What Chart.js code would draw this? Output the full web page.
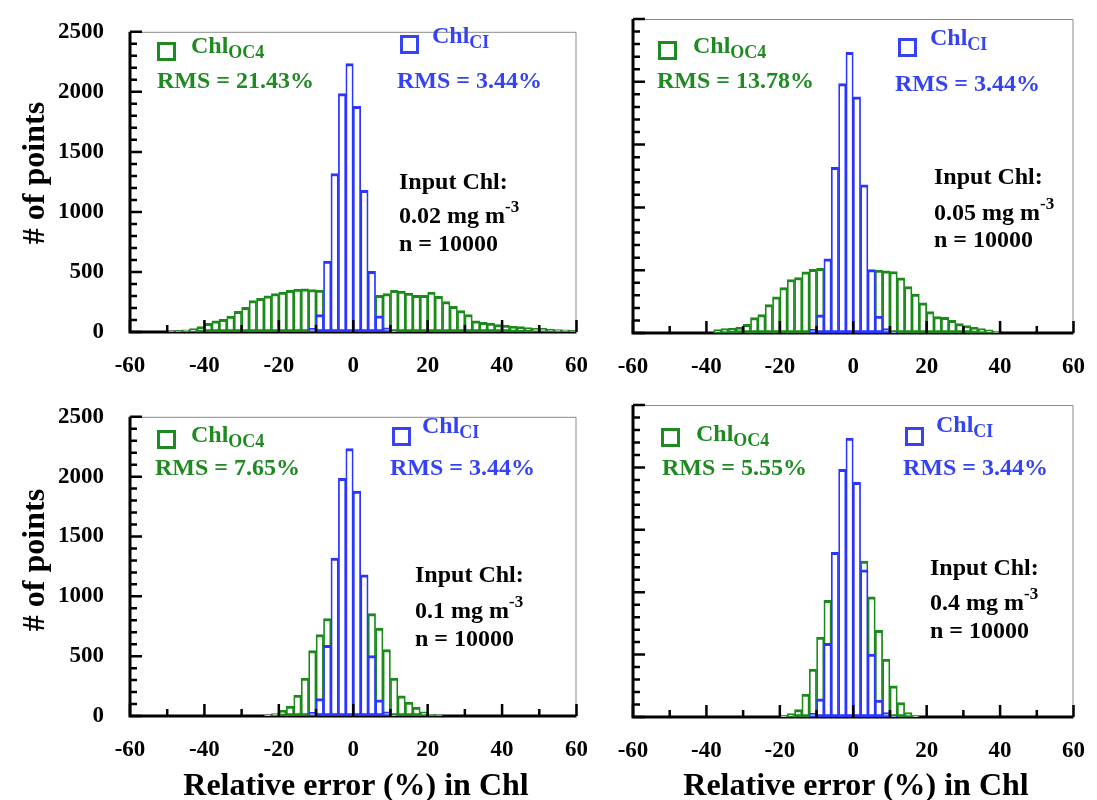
<!DOCTYPE html>
<html>
<head>
<meta charset="utf-8">
<script src="https://cdn.jsdelivr.net/npm/chart.js@4.4.0/dist/chart.umd.min.js"></script>
<style>
body { margin: 0; background: #fff; width: 1097px; height: 800px; position: relative; overflow: hidden;
       font-family: "Liberation Serif", "Times New Roman", serif; font-weight: bold; }
canvas { position: absolute; }
.t { position: absolute; white-space: nowrap; font-size: 24px; line-height: 24px; }
.sq { position: absolute; width: 19px; height: 19px; box-sizing: border-box; border: 3px solid; }
.g { color: #1f8a22; border-color: #1f8a22; }
.b { color: #3543f2; border-color: #3543f2; }
.k { color: #000; }
.sub { font-size: 18px; position: relative; top: 5px; }
.sup { font-size: 17px; position: relative; top: -11px; }
.ttl { position: absolute; white-space: nowrap; font-size: 32px; line-height: 32px; transform: translate(-50%, -50%); }
.ttl.v { transform: translate(-50%, -50%) rotate(-90deg); }
</style>
</head>
<body>

<canvas id="tl" width="600" height="385" style="left:0;top:0"></canvas>
<canvas id="tr" width="497" height="385" style="left:600px;top:0"></canvas>
<canvas id="bl" width="600" height="415" style="left:0;top:385px"></canvas>
<canvas id="br" width="497" height="415" style="left:600px;top:385px"></canvas>

<!-- panel annotations -->
<div class="sq g" style="left:157px;top:42px"></div>
<div class="t g" style="left:191px;top:33px">Chl<span class="sub">OC4</span></div>
<div class="t g" style="left:157px;top:68px">RMS = 21.43%</div>
<div class="sq b" style="left:400px;top:35px"></div>
<div class="t b" style="left:432px;top:23px">Chl<span class="sub">CI</span></div>
<div class="t b" style="left:397px;top:68px">RMS = 3.44%</div>
<div class="t k" style="left:399px;top:169px">Input Chl:</div>
<div class="t k" style="left:399px;top:203px">0.02 mg m<span class="sup">-3</span></div>
<div class="t k" style="left:399px;top:231px">n = 10000</div>

<div class="sq g" style="left:658px;top:41px"></div>
<div class="t g" style="left:693px;top:33px">Chl<span class="sub">OC4</span></div>
<div class="t g" style="left:657px;top:68px">RMS = 13.78%</div>
<div class="sq b" style="left:898px;top:38px"></div>
<div class="t b" style="left:930px;top:25px">Chl<span class="sub">CI</span></div>
<div class="t b" style="left:895px;top:71px">RMS = 3.44%</div>
<div class="t k" style="left:934px;top:164px">Input Chl:</div>
<div class="t k" style="left:934px;top:200px">0.05 mg m<span class="sup">-3</span></div>
<div class="t k" style="left:934px;top:227px">n = 10000</div>

<div class="sq g" style="left:157px;top:430px"></div>
<div class="t g" style="left:191px;top:422px">Chl<span class="sub">OC4</span></div>
<div class="t g" style="left:155px;top:455px">RMS = 7.65%</div>
<div class="sq b" style="left:392px;top:427px"></div>
<div class="t b" style="left:422px;top:413px">Chl<span class="sub">CI</span></div>
<div class="t b" style="left:390px;top:455px">RMS = 3.44%</div>
<div class="t k" style="left:415px;top:562px">Input Chl:</div>
<div class="t k" style="left:415px;top:598px">0.1 mg m<span class="sup">-3</span></div>
<div class="t k" style="left:415px;top:626px">n = 10000</div>

<div class="sq g" style="left:661px;top:428px"></div>
<div class="t g" style="left:696px;top:421px">Chl<span class="sub">OC4</span></div>
<div class="t g" style="left:662px;top:455px">RMS = 5.55%</div>
<div class="sq b" style="left:905px;top:427px"></div>
<div class="t b" style="left:936px;top:412px">Chl<span class="sub">CI</span></div>
<div class="t b" style="left:903px;top:455px">RMS = 3.44%</div>
<div class="t k" style="left:930px;top:555px">Input Chl:</div>
<div class="t k" style="left:930px;top:590px">0.4 mg m<span class="sup">-3</span></div>
<div class="t k" style="left:930px;top:618px">n = 10000</div>

<div class="ttl v" style="left:33px;top:173px"># of points</div>
<div class="ttl v" style="left:33px;top:560px"># of points</div>
<div class="ttl" style="left:356px;top:784px">Relative error (%) in Chl</div>
<div class="ttl" style="left:856px;top:784px">Relative error (%) in Chl</div>

<script>
// histogram bins are 2% wide, these are the centres
const binCenters = [
  -59, -57, -55, -53, -51, -49, -47, -45, -43, -41,
  -39, -37, -35, -33, -31, -29, -27, -25, -23, -21,
  -19, -17, -15, -13, -11, -9, -7, -5, -3, -1,
  1, 3, 5, 7, 9, 11, 13, 15, 17, 19,
  21, 23, 25, 27, 29, 31, 33, 35, 37, 39,
  41, 43, 45, 47, 49, 51, 53, 55, 57, 59
];

// Chl_CI counts (same in every panel)
const ciCounts = [
  null, null, null, null, null, null, null, null, null, null,
  null, null, null, null, null, null, null, null, null, null,
  null, null, null, null, 30, 145, 590, 1320, 1985, 2235,
  1880, 1180, 505, 135, 35, 8, null, null, null, null,
  null, null, null, null, null, null, null, null, null, null,
  null, null, null, null, null, null, null, null, null, null
];

// Chl_OC4 counts, null where the bin is hidden behind the CI bars
const oc4Chl002 = [
  null, null, null, null, null, 8, 12, 18, 28, 45,
  72, 93, 106, 133, 173, 205, 261, 280, 301, 320,
  333, 346, 357, 359, 354, 350, null, null, null, null,
  null, null, null, 306, 320, 346, 340, 325, 306, 306,
  333, 298, 253, 213, 178, 146, 93, 80, 75, 62,
  58, 48, 45, 37, 32, 30, 25, 20, 18, 12
];
const oc4Chl005 = [
  null, null, null, null, null, null, null, null, null, null,
  null, 27, 35, 40, 48, 69, 122, 146, 226, 288,
  362, 426, 442, 487, 506, 514, null, null, null, null,
  null, null, null, 500, 495, 490, 440, 370, 310, 240,
  170, 130, 125, 100, 75, 60, 45, 35, 25, 15,
  null, null, null, null, null, null, null, null, null, null
];
const oc4Chl01 = [
  null, null, null, null, null, null, null, null, null, null,
  null, null, null, null, null, null, null, null, 5, 20,
  48, 83, 175, 317, 546, 680, 815, null, null, null,
  null, null, 855, 734, 554, 317, 169, 116, 75, 35,
  16, 8, null, null, null, null, null, null, null, null,
  null, null, null, null, null, null, null, null, null, null
];
const oc4Chl04 = [
  null, null, null, null, null, null, null, null, null, null,
  null, null, null, null, null, null, null, null, null, null,
  10, 27, 60, 183, 384, 640, 935, null, null, null,
  null, 1250, 962, 694, 465, 250, 116, 35, 10, null,
  null, null, null, null, null, null, null, null, null, null,
  null, null, null, null, null, null, null, null, null, null
];

const GREEN = '#1b8a1b';
const BLUE = '#2b35ff';
const tickFont = { family: 'Liberation Serif', size: 23, weight: 'bold' };
const barBorder = { top: 3, right: 1.75, bottom: 3, left: 1.75 };

// axes frame: thin grey top/right, heavy black left/bottom, inward ticks
const frame = {
  id: 'frame',
  beforeDatasetsDraw(chart) {
    const { ctx, chartArea: a } = chart;
    ctx.save();
    ctx.strokeStyle = '#8a8a8a';
    ctx.lineWidth = 1;
    ctx.beginPath();
    ctx.moveTo(a.left, a.top + 0.5);
    ctx.lineTo(a.right - 0.5, a.top + 0.5);
    ctx.lineTo(a.right - 0.5, a.bottom);
    ctx.stroke();
    ctx.strokeStyle = '#000';
    ctx.lineWidth = 3;
    ctx.beginPath();
    ctx.moveTo(a.left, a.top);
    ctx.lineTo(a.left, a.bottom);
    ctx.lineTo(a.right, a.bottom);
    ctx.stroke();
    ctx.restore();
  },
  afterDatasetsDraw(chart) {
    const { ctx, chartArea: a, scales } = chart;
    ctx.save();
    ctx.strokeStyle = '#000';
    ctx.lineWidth = 2.5;
    ctx.beginPath();
    for (let v = 0; v <= 2500; v += 100) {
      const y = scales.y.getPixelForValue(v);
      ctx.moveTo(a.left, y);
      ctx.lineTo(a.left + (v % 500 === 0 ? 12 : 7), y);
    }
    for (let v = -60; v <= 60; v += 10) {
      const x = scales.x.getPixelForValue(v);
      ctx.moveTo(x, a.bottom);
      ctx.lineTo(x, a.bottom - (v % 20 === 0 ? 12 : 7));
    }
    ctx.stroke();
    ctx.restore();
  }
};

function makeChart(id, oc4, showY, pad, yWidth, xHeight) {
  return new Chart(document.getElementById(id), {
    type: 'bar',
    data: {
      labels: binCenters,
      datasets: [
        { label: 'Chl CI', data: ciCounts, backgroundColor: '#fff', borderColor: BLUE,
          borderWidth: barBorder, borderSkipped: false, grouped: false,
          barPercentage: 1, categoryPercentage: 1 },
        { label: 'Chl OC4', data: oc4, backgroundColor: '#fff', borderColor: GREEN,
          borderWidth: barBorder, borderSkipped: false, grouped: false,
          barPercentage: 1, categoryPercentage: 1 }
      ]
    },
    options: {
      responsive: false,
      animation: false,
      layout: { padding: pad },
      plugins: { legend: { display: false }, tooltip: { enabled: false } },
      scales: {
        x: {
          type: 'linear', min: -60, max: 60, offset: false,
          grid: { display: false }, border: { display: false },
          ticks: { stepSize: 20, padding: 12, color: '#000', font: tickFont, maxRotation: 0, autoSkip: false },
          afterFit: s => { s.height = xHeight; }
        },
        y: {
          min: 0, max: 2500,
          grid: { display: false }, border: { display: false },
          ticks: { display: showY, stepSize: 500, padding: 18, color: '#000', font: tickFont,
                   callback: v => String(v) },
          afterFit: s => { s.width = yWidth; }
        }
      }
    },
    plugins: [frame]
  });
}

makeChart('tl', oc4Chl002, true, { top: 19, right: 17, left: 0, bottom: 0 }, 130, 53);
makeChart('tr', oc4Chl005, false, { top: 19, right: 13, left: 0, bottom: 0 }, 33, 52);
makeChart('bl', oc4Chl01, true, { top: 20, right: 17, left: 0, bottom: 0 }, 130, 84);
makeChart('br', oc4Chl04, false, { top: 20, right: 13, left: 0, bottom: 0 }, 33, 83);
</script>
</body>
</html>
